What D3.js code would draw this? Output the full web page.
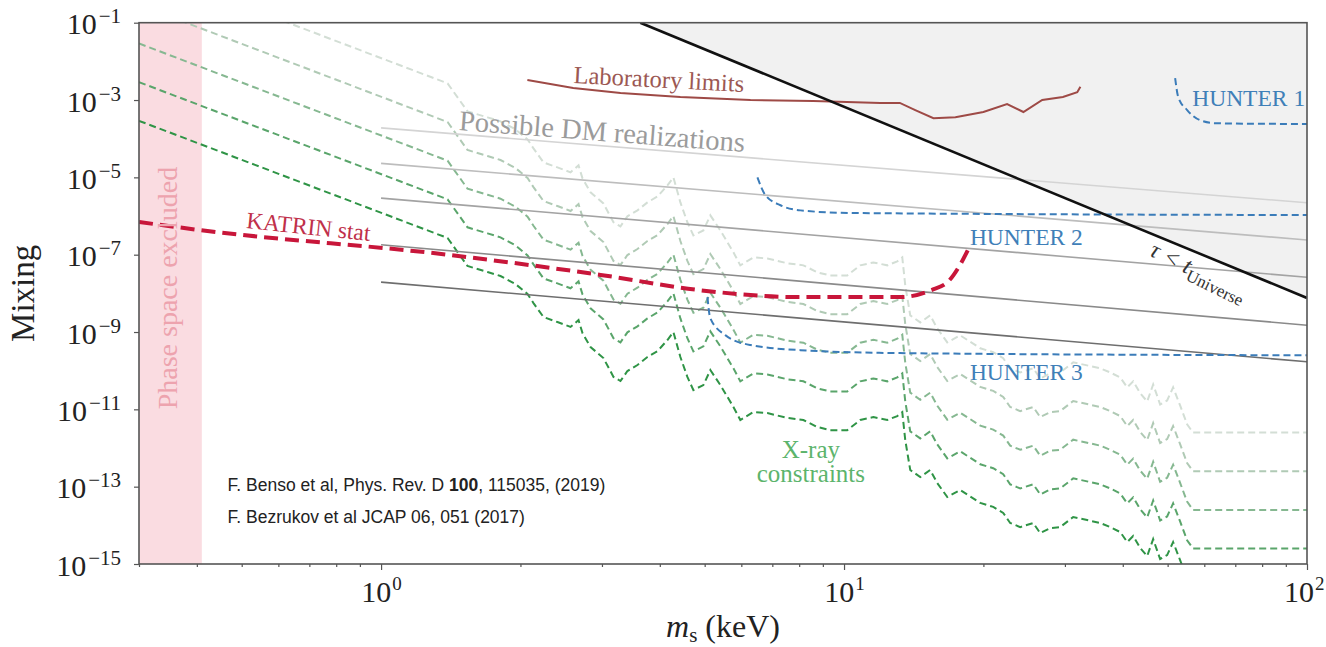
<!DOCTYPE html>
<html>
<head>
<meta charset="utf-8">
<script src="https://cdn.jsdelivr.net/npm/d3@7"></script>
<style>
  body { margin: 0; background: #fff; }
  svg { display: block; }
</style>
</head>
<body>
<div id="chart"></div>
<script>
// Sterile neutrino mixing vs mass (log-log), drawn with d3

// axis ranges
let massRange = [0.3, 100];          // keV
let mixRange = [1e-15, 1e-1];
let xTickValues = [1, 10, 100];
let yTickValues = [1e-1, 1e-3, 1e-5, 1e-7, 1e-9, 1e-11, 1e-13, 1e-15];

// phase space excluded band (keV)
let phaseSpaceBand = [0.3, 0.41];

// tau < t_Universe boundary (region above it is shaded)
let lifetimeLine = [[3.63, 1e-1], [100, 7.6e-9]];

// laboratory limits
let labLimits = [
  [2.07, 3.3e-3], [2.6, 2.05e-3], [3.29, 1.52e-3], [4.43, 1.2e-3], [6.28, 1.0e-3],
  [8.58, 9.4e-4], [11.98, 8.4e-4], [13.2, 8.4e-4], [14.25, 5.5e-4], [15.6, 3.4e-4],
  [17.4, 3.6e-4], [20.0, 4.9e-4], [22.5, 7.9e-4], [24.4, 4.9e-4], [26.8, 1.0e-3],
  [29.7, 1.2e-3], [31.9, 1.6e-3], [32.4, 2.2e-3]
];

// possible DM realizations (1 keV .. 100 keV)
let dmLines = [
  [[1, 1.9e-4], [100, 2.2e-6]],
  [[1, 2.3e-5], [100, 2.4e-7]],
  [[1, 2.9e-6], [100, 2.6e-8]],
  [[1, 1.8e-7], [100, 1.5e-9]],
  [[1, 1.95e-8], [100, 1.7e-10]]
];

// KATRIN statistical sensitivity
let katrin = [
  [0.3, 7.0e-7], [0.408, 4.3e-7], [1.41, 9.8e-8], [2.98, 3.0e-8], [4.9, 1.2e-8],
  [8.05, 8.0e-9], [13.2, 8.0e-9], [15.4, 1.2e-8], [16.9, 2.2e-8], [17.8, 5.4e-8],
  [18.5, 1.3e-7]
];

// HUNTER phases
let hunter1 = [[51.9, 3.7e-3], [52.7, 1.2e-3], [55.1, 5.5e-4], [58.8, 3.0e-4], [63.9, 2.5e-4], [100, 2.4e-4]];
let hunter2 = [[6.5, 1.0e-5], [6.76, 3.5e-6], [7.29, 1.9e-6], [8.05, 1.4e-6], [10.3, 1.2e-6], [100, 1.06e-6]];
let hunter3 = [[5.07, 8.0e-9], [5.14, 2.3e-9], [5.54, 8.3e-10], [6.28, 4.6e-10], [8.05, 3.4e-10], [13.2, 2.85e-10], [100, 2.5e-10]];

// X-ray constraint curve (lowest one); the others sit whole decades above it
let xrayCurve = [
  [0.3, 2.9e-4], [1.392, 2.7e-7], [1.463, 1.17e-7], [1.537, 5.1e-8], [1.698, 3.56e-8],
  [1.811, 2.81e-8], [1.951, 1.74e-8], [2.072, 9.6e-9], [2.134, 5.6e-9], [2.243, 2.44e-9],
  [2.404, 1.81e-9], [2.566, 1.35e-9], [2.67, 2.04e-9], [2.723, 9.4e-10], [2.834, 4.1e-10],
  [3.022, 2.12e-10], [3.177, 6.9e-11], [3.289, 5.4e-11], [3.405, 9.8e-11], [3.579, 1.4e-10],
  [3.761, 2.25e-10], [3.954, 3.2e-10], [4.155, 6.2e-10], [4.28, 1.0e-9], [4.431, 2.25e-10],
  [4.588, 6.9e-11], [4.727, 3.15e-11], [4.968, 4.25e-11], [5.143, 1.04e-10], [5.406, 4.25e-11],
  [5.769, 1.15e-11], [5.97, 5.3e-12], [6.37, 8.5e-12], [6.83, 8.0e-12], [7.54, 6.0e-12],
  [8.17, 5.3e-12], [8.75, 3.5e-12], [9.34, 2.9e-12], [10.16, 2.9e-12], [10.84, 5.3e-12],
  [11.57, 6.3e-12], [12.4, 5.3e-12], [13.03, 6.7e-12], [13.36, 8.5e-12], [13.56, 1.6e-12],
  [13.9, 2.7e-13], [14.61, 1.77e-13], [15.35, 2.7e-13], [15.9, 1.24e-13], [16.71, 5.4e-14],
  [17.82, 8.2e-14], [19.69, 3.8e-14], [21.0, 3.0e-14], [22.07, 2.1e-14], [22.85, 1.15e-14],
  [24.02, 9.0e-15], [25.63, 1.15e-14], [26.53, 6.3e-15], [27.88, 8.5e-15], [29.3, 9.0e-15],
  [31.26, 1.64e-14], [33.5, 1.37e-14], [35.75, 1.15e-14], [37.57, 9.0e-15], [39.5, 6.7e-15],
  [40.9, 3.7e-15], [42.13, 5.3e-15], [43.62, 2.6e-15], [45.16, 1.6e-15], [46.53, 4.4e-15],
  [48.17, 1.34e-15], [49.88, 1.7e-15], [51.38, 3.7e-15], [53.2, 1.26e-15], [55.08, 4.1e-16],
  [56.75, 2.5e-16], [100, 2.5e-16]
];
let xrayShift = [1e4, 1e3, 1e2, 1e1, 1];

// styles
let serif = "'Liberation Serif', 'Times New Roman', serif";
let sans = "'Liberation Sans', Arial, sans-serif";
let xrayColors = ["#d3ded5", "#b0cab5", "#86b891", "#5aa56b", "#2f9446"];
let dmColors = ["#d4d4d4", "#bdbdbd", "#a3a3a3", "#8a8a8a", "#6e6e6e"];

let width = 1326, height = 647;
let margin = {top: 22.7, right: 19, bottom: 83, left: 139};
let innerW = width - margin.left - margin.right;
let innerH = height - margin.top - margin.bottom;

let svg = d3.select("#chart")
  .append("svg")
  .attr("width", width)
  .attr("height", height);

let x = d3.scaleLog().domain(massRange).range([margin.left, margin.left + innerW]);
let y = d3.scaleLog().domain(mixRange).range([margin.top + innerH, margin.top]);

svg.append("clipPath")
  .attr("id", "plotClip")
  .append("rect")
  .attr("x", margin.left).attr("y", margin.top)
  .attr("width", innerW).attr("height", innerH);

let plot = svg.append("g").attr("clip-path", "url(#plotClip)");

let line = d3.line()
  .x(d => x(d[0]))
  .y(d => y(d[1]));
let smoothLine = d3.line()
  .x(d => x(d[0]))
  .y(d => y(d[1]))
  .curve(d3.curveMonotoneX);

// shaded tau < t_Universe region
let shade = d3.area()
  .x(d => x(d[0]))
  .y0(y(mixRange[1]))
  .y1(d => y(d[1]));
plot.append("path")
  .attr("d", shade(lifetimeLine))
  .attr("fill", "#f1f1f1");

// phase space band
plot.append("rect")
  .attr("x", x(phaseSpaceBand[0]))
  .attr("y", margin.top)
  .attr("width", x(phaseSpaceBand[1]) - x(phaseSpaceBand[0]))
  .attr("height", innerH)
  .attr("fill", "#fadce1");

// X-ray constraints
xrayShift.forEach(function (k, i) {
  plot.append("path")
    .attr("d", line(xrayCurve.map(d => [d[0], d[1] * k])))
    .attr("fill", "none")
    .attr("stroke", xrayColors[i])
    .attr("stroke-width", 2)
    .attr("stroke-dasharray", "7,4");
});

// DM realization lines
dmLines.forEach(function (d, i) {
  plot.append("path")
    .attr("d", line(d))
    .attr("fill", "none")
    .attr("stroke", dmColors[i])
    .attr("stroke-width", 1.6);
});

// HUNTER
[hunter1, hunter2, hunter3].forEach(function (d) {
  plot.append("path")
    .attr("d", smoothLine(d))
    .attr("fill", "none")
    .attr("stroke", "#3b7cb9")
    .attr("stroke-width", 2)
    .attr("stroke-dasharray", "7,4");
});

// KATRIN
plot.append("path")
  .attr("d", smoothLine(katrin))
  .attr("fill", "none")
  .attr("stroke", "#c8163a")
  .attr("stroke-width", 4)
  .attr("stroke-dasharray", "14,7");

// laboratory limits
plot.append("path")
  .attr("d", line(labLimits))
  .attr("fill", "none")
  .attr("stroke", "#9e4a46")
  .attr("stroke-width", 2);

// lifetime boundary
plot.append("path")
  .attr("d", line(lifetimeLine))
  .attr("fill", "none")
  .attr("stroke", "#111")
  .attr("stroke-width", 2.6);

// axes
let xAxis = svg.append("g")
  .attr("transform", "translate(0," + (margin.top + innerH) + ")")
  .call(d3.axisBottom(x).tickValues(xTickValues).tickSize(6).tickPadding(10).tickFormat(""));
svg.append("g")
  .attr("transform", "translate(0," + (margin.top + innerH) + ")")
  .call(d3.axisBottom(x).tickValues(x.ticks().filter(v => xTickValues.indexOf(v) < 0)).tickSize(3).tickFormat(""))
  .call(g => g.select(".domain").remove());
let yAxis = svg.append("g")
  .attr("transform", "translate(" + margin.left + ",0)")
  .call(d3.axisLeft(y).tickValues(yTickValues).tickSize(5).tickPadding(13).tickFormat(""));

svg.selectAll(".tick line").attr("stroke", "#555").attr("stroke-width", 1.2);
svg.selectAll(".domain").attr("stroke", "none");

xAxis.selectAll(".tick text").each(function (d, i) {
  let t = d3.select(this)
    .attr("font-family", serif).attr("font-size", 30).attr("fill", "#222")
    .attr("dy", 22);
  // last label would run past the right edge, keep it inside
  if (i === xTickValues.length - 1) t.attr("text-anchor", "end").attr("x", 17);
  t.append("tspan").text("10");
  t.append("tspan").attr("dy", -12).attr("dx", 1).attr("font-size", 19).text(Math.round(Math.log10(d)));
});
yAxis.selectAll(".tick text").each(function (d) {
  let t = d3.select(this)
    .attr("font-family", serif).attr("font-size", 30).attr("fill", "#222")
    .attr("dy", 11);
  t.append("tspan").text("10");
  t.append("tspan").attr("dy", -11).attr("dx", 2).attr("font-size", 21).text("\u2212" + Math.round(-Math.log10(d)));
});

// frame
svg.append("rect")
  .attr("x", margin.left).attr("y", margin.top)
  .attr("width", innerW).attr("height", innerH)
  .attr("fill", "none")
  .attr("stroke", "#555")
  .attr("stroke-width", 1.6);

// axis titles
let xTitle = svg.append("text")
  .attr("x", margin.left + innerW / 2).attr("y", 637)
  .attr("text-anchor", "middle")
  .attr("font-family", serif).attr("font-size", 32).attr("fill", "#222");
xTitle.append("tspan").attr("font-style", "italic").text("m");
xTitle.append("tspan").attr("font-size", 21).attr("dy", 5).text("s");
xTitle.append("tspan").attr("dy", -5).text(" (keV)");

svg.append("text")
  .attr("transform", "translate(34," + (margin.top + innerH / 2) + ") rotate(-90)")
  .attr("text-anchor", "middle")
  .attr("font-family", serif).attr("font-size", 33).attr("fill", "#222")
  .text("Mixing");

// annotations
function label(text, px, py, opts) {
  return svg.append("text")
    .attr("transform", "translate(" + px + "," + py + ") rotate(" + (opts.rotate || 0) + ")")
    .attr("text-anchor", opts.anchor || "start")
    .attr("font-family", opts.family || serif)
    .attr("font-size", opts.size)
    .attr("fill", opts.color)
    .text(text);
}

label("Phase space excluded", x(0.35) + 7, y(1.37e-8), {rotate: -90, anchor: "middle", size: 28, color: "#eda3ae"});
label("Laboratory limits", x(2.6), y(2.75e-3), {rotate: 3, size: 24.5, color: "#9c5853"});
label("Possible DM realizations", x(1.47), y(1.68e-4), {rotate: 4.4, size: 28.5, color: "#9b9b9b"});
label("KATRIN stat", x(0.51), y(4.9e-7), {rotate: 6, size: 23.5, color: "#c0304a"});
label("HUNTER 1", x(56.5), y(7e-4), {size: 23.5, color: "#3f7fb8"});
label("HUNTER 2", x(18.7), y(1.8e-7), {size: 23.5, color: "#3f7fb8"});
label("HUNTER 3", x(18.7), y(5.8e-11), {size: 23.5, color: "#3f7fb8"});
label("X-ray", x(8.48), y(5.5e-13), {anchor: "middle", size: 25, color: "#5cb46c"});
label("constraints", x(8.48), y(1.32e-13), {anchor: "middle", size: 25, color: "#5cb46c"});

let tau = svg.append("text")
  .attr("transform", "translate(" + x(45.4) + "," + y(9.8e-8) + ") rotate(26)")
  .attr("font-family", serif).attr("font-size", 24).attr("fill", "#333");
tau.append("tspan").attr("font-style", "italic").text("\u03c4 < t");
tau.append("tspan").attr("font-size", 17).attr("dy", 6).text("Universe");

let cite1 = svg.append("text")
  .attr("x", x(0.466)).attr("y", y(7.8e-14))
  .attr("font-family", sans).attr("font-size", 17.5).attr("fill", "#222");
cite1.append("tspan").text("F. Benso et al, Phys. Rev. D ");
cite1.append("tspan").attr("font-weight", "bold").text("100");
cite1.append("tspan").text(", 115035, (2019)");
svg.append("text")
  .attr("x", x(0.466)).attr("y", y(1.15e-14))
  .attr("font-family", sans).attr("font-size", 17.5).attr("fill", "#222")
  .text("F. Bezrukov et al JCAP 06, 051 (2017)");
</script>
</body>
</html>
